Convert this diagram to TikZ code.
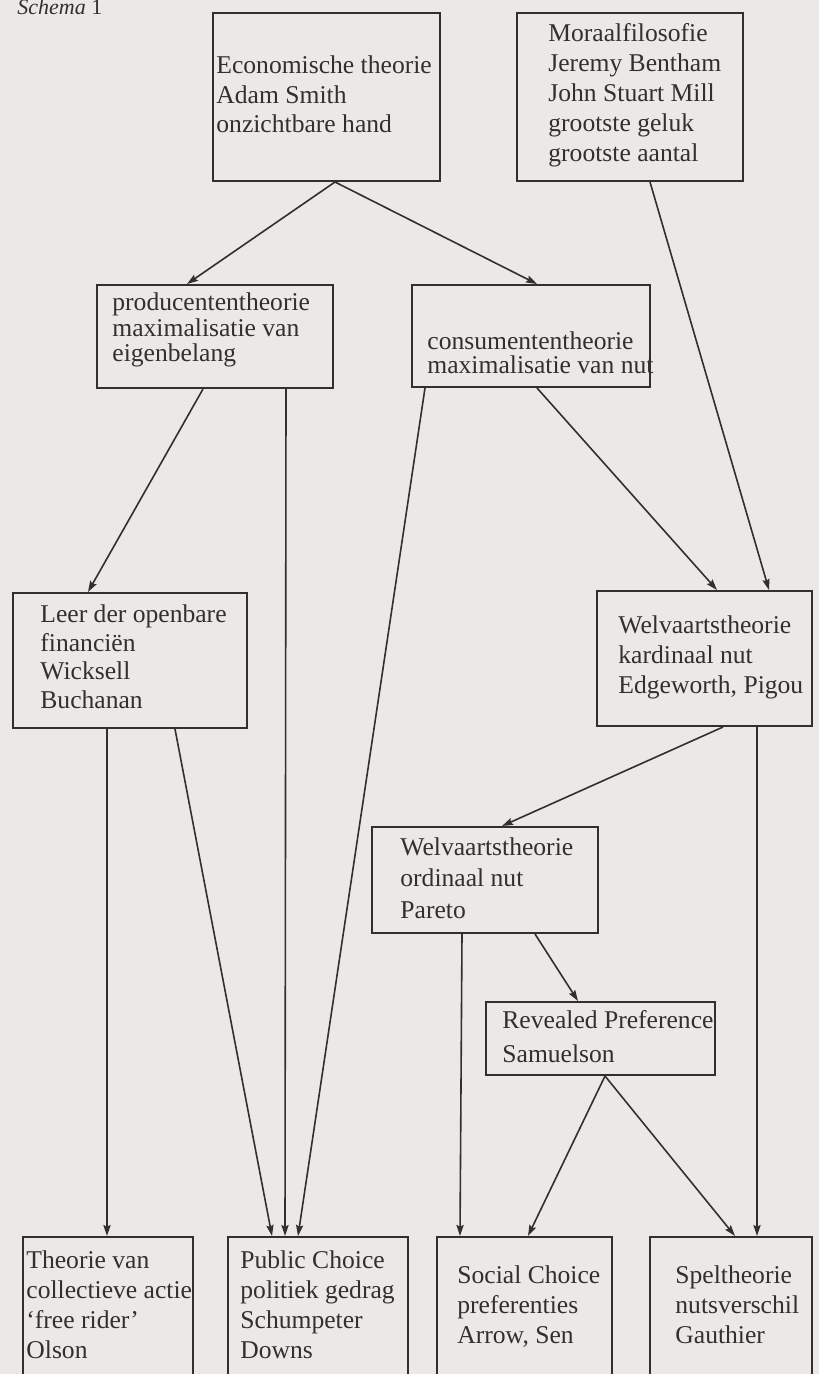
\documentclass[tikz,border=0pt]{standalone}
\usepackage{fontspec}
\setmainfont{Liberation Serif}
\usetikzlibrary{arrows.meta,calc}
\definecolor{paper}{RGB}{235,232,232}
\definecolor{ink}{RGB}{52,47,47}
\begin{document}
\begin{tikzpicture}[x=0.5pt,y=-0.5pt,
  box/.style={draw=ink, line width=1pt, inner sep=0pt, rectangle},
  conn/.style={draw=ink, line width=0.8pt, -{Stealth[length=5.5pt,width=3.6pt,inset=0.8pt]}},
  txt/.style={text=ink, inner sep=0pt, anchor=base west, align=left, font=\fontsize{12.8}{15}\selectfont}]
\fill[paper] (0,0) rectangle (819,1374);
\useasboundingbox (0,0) rectangle (819,1374);
\clip (0,0) rectangle (819,1374);

% boxes
\node[box, minimum width=113.5pt, minimum height=84pt] (eco) at (326.5,97) {};
\node[box, minimum width=113pt, minimum height=84pt] (moraal) at (630,97) {};
\node[box, minimum width=118pt, minimum height=51.5pt] (prod) at (215,336.5) {};
\node[box, minimum width=119pt, minimum height=51pt] (cons) at (531,336) {};
\node[box, minimum width=117pt, minimum height=67.5pt] (leer) at (130,660.5) {};
\node[box, minimum width=107.5pt, minimum height=67.5pt] (kard) at (704.5,658.5) {};
\node[box, minimum width=113pt, minimum height=53pt] (ord) at (485,880) {};
\node[box, minimum width=114.5pt, minimum height=36.5pt] (rp) at (600.5,1038.5) {};
\node[box, minimum width=85pt, minimum height=76.5pt] (coll) at (108,1313.5) {};
\node[box, minimum width=90pt, minimum height=76.5pt] (pc) at (318,1313.5) {};
\node[box, minimum width=87.5pt, minimum height=76.5pt] (sc) at (524.5,1313.5) {};
\node[box, minimum width=81pt, minimum height=76.5pt] (spel) at (731,1313.5) {};

% texts (anchored at the baseline of the last line)
\node[txt, font=\fontsize{11}{13}\selectfont] (schema) at (17,15) {\textit{Schema} 1};
\node[txt, font=\fontsize{12.8}{14.75}\selectfont] (ecot) at (216,133) {Economische theorie\\Adam Smith\\onzichtbare hand};
\node[txt] (moraalt) at (548,162) {Moraalfilosofie\\Jeremy Bentham\\John Stuart Mill\\grootste geluk\\grootste aantal};
\node[txt, font=\fontsize{12.8}{12.5}\selectfont] (prodt) at (112,361) {producententheorie\\maximalisatie van\\eigenbelang};
\node[txt, font=\fontsize{12.8}{12}\selectfont] (const) at (427,373) {consumententheorie\\maximalisatie van nut};
\node[txt, font=\fontsize{12.8}{14.2}\selectfont] (leert) at (40,708) {Leer der openbare\\financiën\\Wicksell\\Buchanan};
\node[txt] (kardt) at (618,693) {Welvaartstheorie\\kardinaal nut\\Edgeworth, Pigou};
\node[txt, font=\fontsize{12.8}{15.75}\selectfont] (ordt) at (400,918) {Welvaartstheorie\\ordinaal nut\\Pareto};
\node[txt, font=\fontsize{12.8}{17}\selectfont] (rpt) at (502,1062) {Revealed Preference\\Samuelson};
\node[txt] (collt) at (26,1358) {Theorie van\\collectieve actie\\‘free rider’\\Olson};
\node[txt] (pct) at (240,1358) {Public Choice\\politiek gedrag\\Schumpeter\\Downs};
\node[txt] (sct) at (457,1343) {Social Choice\\preferenties\\Arrow, Sen};
\node[txt] (spelt) at (675,1343) {Speltheorie\\nutsverschil\\Gauthier};

% connectors
\draw[conn] (eco.south -| 335,0) -- (prod.north -| 187,0);
\draw[conn] (eco.south -| 335,0) -- (cons.north -| 537,0);
\draw[conn] (moraal.south -| 650,0) -- (kard.north -| 769,0);
\draw[conn] (cons.south -| 537,0) -- (kard.north -| 717,0);
\draw[conn] (prod.south -| 203,0) -- (leer.north -| 88,0);
\draw[conn] (prod.south -| 286,0) -- (pc.north -| 285,0);
\draw[conn] (cons.south -| 425,0) -- (pc.north -| 298,0);
\draw[conn] (leer.south -| 107,0) -- (coll.north -| 107,0);
\draw[conn] (leer.south -| 175,0) -- (pc.north -| 272,0);
\draw[conn] (kard.south -| 723,0) -- (ord.north -| 502,0);
\draw[conn] (kard.south -| 757,0) -- (spel.north -| 757,0);
\draw[conn] (ord.south -| 462,0) -- (sc.north -| 460,0);
\draw[conn] (ord.south -| 535,0) -- (rp.north -| 578,0);
\draw[conn] (rp.south -| 605,0) -- (sc.north -| 528,0);
\draw[conn] (rp.south -| 605,0) -- (spel.north -| 735,0);
\end{tikzpicture}
\end{document}
